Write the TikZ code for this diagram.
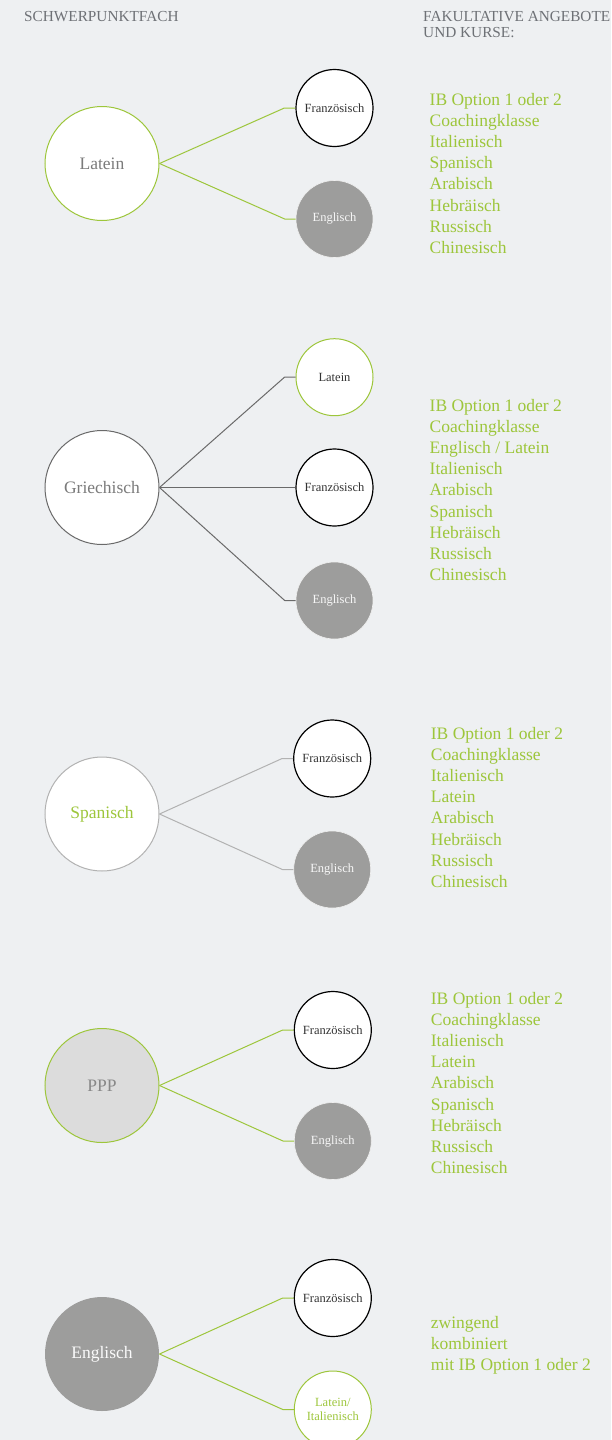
\documentclass[tikz,border=0pt]{standalone}
\usepackage{fontspec}
\setmainfont{Liberation Serif}

\definecolor{bg}{HTML}{EEF0F2}
\definecolor{leaf}{HTML}{9DC63B}
\definecolor{stone}{HTML}{9D9D9C}
\definecolor{headgray}{HTML}{6E7176}
\definecolor{darkline}{HTML}{6A6A6A}
\definecolor{lightline}{HTML}{B2B2B2}
\definecolor{pppfill}{HTML}{DCDCDC}
\definecolor{labelgray}{HTML}{7B7B7B}

% list of optional courses, first line sits on the node's baseline
\newcommand\courselist[1]{\begin{tabular}[t]{@{}l@{}}#1\end{tabular}}

\begin{document}
\begin{tikzpicture}[x=1pt,y=-1pt,
  major/.style={circle,minimum size=114pt,inner sep=0pt,line width=1pt,
    font=\fontsize{17.5}{20}\selectfont},
  minor/.style={circle,minimum size=77pt,inner sep=0pt,line width=1pt,
    font=\fontsize{12.5}{14}\selectfont},
  french/.style={minor,draw=black,fill=white,line width=1.2pt,text=black!80},
  english/.style={minor,fill=stone,draw=white!85!stone,line width=0.6pt,text=white!92!stone},
  latin/.style={minor,draw=leaf,fill=white,text=black!80},
  link/.style={line width=1pt},
  list/.style={anchor=base west,inner sep=0pt,text=leaf,
    font=\fontsize{17.5}{21.2}\selectfont},
  head/.style={anchor=base west,inner sep=0pt,text=headgray,
    font=\fontsize{15.3}{16.5}\selectfont}]

% page and clipping
\fill[bg] (0,0) rectangle (611,1440);
\useasboundingbox (0,0) rectangle (611,1440);
\clip (0,0) rectangle (611,1440);

% column headings
\node[head] (h1) at (24,21) {SCHWERPUNKTFACH};
\node[head] (h2) at (423,21) {\begin{tabular}[t]{@{}l@{}}FAKULTATIVE ANGEBOTE\\UND KURSE:\end{tabular}};

% --- Latein ---
\node[major,draw=leaf,fill=white,text=labelgray] (lat) at (102,163.5) {Latein};
\node[french] (latfr) at (334.5,108) {Französisch};
\node[english] (laten) at (334.5,219) {Englisch};
\draw[link,leaf] (lat.east) -- ([xshift=-11pt]latfr.west) -- (latfr.west);
\draw[link,leaf] (lat.east) -- ([xshift=-11pt]laten.west) -- (laten.west);
\node[list] (latlist) at (429.5,105) {\courselist{IB Option 1 oder 2\\Coachingklasse\\Italienisch\\Spanisch\\Arabisch\\Hebräisch\\Russisch\\Chinesisch}};

% --- Griechisch ---
\node[major,draw=darkline,fill=white,text=labelgray] (gri) at (102,487.5) {Griechisch};
\node[latin] (grila) at (334.5,377.2) {Latein};
\node[french] (grifr) at (334.5,487.5) {Französisch};
\node[english] (grien) at (334.5,600.5) {Englisch};
\draw[link,darkline] (gri.east) -- ([xshift=-11pt]grila.west) -- (grila.west);
\draw[link,darkline] (gri.east) -- (grifr.west);
\draw[link,darkline] (gri.east) -- ([xshift=-11pt]grien.west) -- (grien.west);
\node[list] (grilist) at (429.5,411) {\courselist{IB Option 1 oder 2\\Coachingklasse\\Englisch / Latein\\Italienisch\\Arabisch\\Spanisch\\Hebräisch\\Russisch\\Chinesisch}};

% --- Spanisch ---
\node[major,draw=lightline,fill=white,text=leaf] (spa) at (102,814) {Spanisch};
\node[french] (spafr) at (332.2,758.5) {Französisch};
\node[english] (spaen) at (332.2,869.5) {Englisch};
\draw[link,lightline] (spa.east) -- ([xshift=-11pt]spafr.west) -- (spafr.west);
\draw[link,lightline] (spa.east) -- ([xshift=-11pt]spaen.west) -- (spaen.west);
\node[list] (spalist) at (430.7,739) {\courselist{IB Option 1 oder 2\\Coachingklasse\\Italienisch\\Latein\\Arabisch\\Hebräisch\\Russisch\\Chinesisch}};

% --- PPP ---
\node[major,draw=leaf,fill=pppfill,text=labelgray!90] (ppp) at (102,1085.5) {PPP};
\node[french] (pppfr) at (332.8,1030) {Französisch};
\node[english] (pppen) at (332.8,1141) {Englisch};
\draw[link,leaf] (ppp.east) -- ([xshift=-11pt]pppfr.west) -- (pppfr.west);
\draw[link,leaf] (ppp.east) -- ([xshift=-11pt]pppen.west) -- (pppen.west);
\node[list] (ppplist) at (430.7,1004) {\courselist{IB Option 1 oder 2\\Coachingklasse\\Italienisch\\Latein\\Arabisch\\Spanisch\\Hebräisch\\Russisch\\Chinesisch}};

% --- Englisch ---
\node[major,fill=stone,text=white!95!stone] (eng) at (102,1354) {Englisch};
\node[french] (engfr) at (332.8,1298) {Französisch};
\node[latin,text=leaf,align=center,font=\fontsize{12.5}{14.5}\selectfont] (engli) at (332.8,1409.5) {Latein/\\Italienisch};
\draw[link,leaf] (eng.east) -- ([xshift=-11pt]engfr.west) -- (engfr.west);
\draw[link,leaf] (eng.east) -- ([xshift=-11pt]engli.west) -- (engli.west);
\node[list] (englist) at (430.7,1328) {\courselist{zwingend\\kombiniert\\mit IB Option 1 oder 2}};

\end{tikzpicture}
\end{document}
